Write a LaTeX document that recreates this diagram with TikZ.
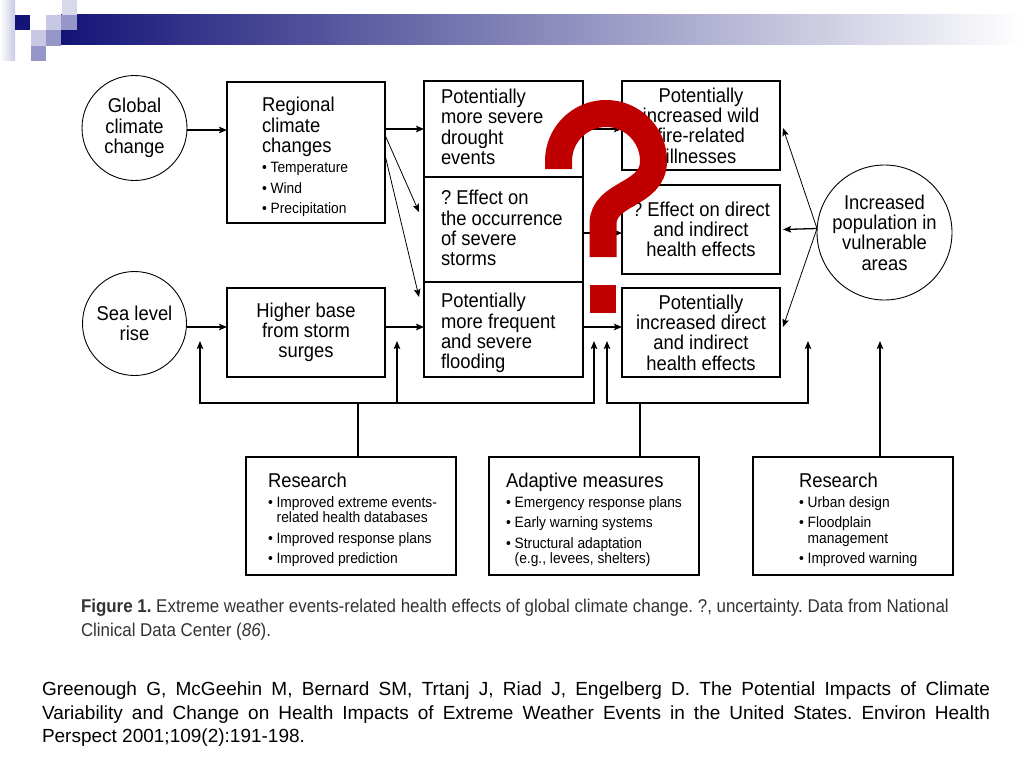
\documentclass[tikz,border=0pt]{standalone}
\usepackage{fontspec}
\setmainfont{Liberation Sans}
\newfontfamily\boxfont[FakeStretch=0.92]{Liberation Sans}
\newfontfamily\capfont[FakeStretch=0.915]{Liberation Sans}
\usepackage{tikz}
\usetikzlibrary{arrows.meta,positioning}
\frenchspacing
\definecolor{qred}{RGB}{192,0,0}
\definecolor{navy}{RGB}{20,20,120}
\definecolor{lav}{RGB}{200,200,228}
\definecolor{lavmid}{RGB}{150,150,200}
\definecolor{barmid}{RGB}{150,150,172}
\newcommand{\bulsize}{\fontsize{15}{15.5}\selectfont}
\tikzset{%
    >={Stealth[length=8pt,width=6.5pt,inset=1.5pt]}, % filled arrow tips
    inner sep=0pt,%
    outer sep=0pt,%
    box/.style={draw,line width=1.3pt,rectangle,align=center,
      font=\boxfont\fontsize{20}{20.3}\selectfont},%
    bubble/.style={draw,line width=0.9pt,circle,align=center,
      font=\boxfont\fontsize{20}{20.3}\selectfont},%
    txt/.style={anchor=north west,align=left,
      font=\boxfont\fontsize{20}{20.3}\selectfont},%
    flow/.style={->,line width=1.3pt},%
    thinflow/.style={->,line width=0.8pt},%
    bus/.style={line width=1.3pt,line cap=rect}%
    }

\begin{document}
\begin{tikzpicture}[x=1pt,y=-1pt]
    \useasboundingbox (0,0) rectangle (1024,768);
    % header bar and squares
    \shade[left color=navy,middle color=barmid,right color=white] (61,15) rectangle (1024,45);
    \shade[left color=white,right color=lav] (0,0) rectangle (15,60);
    \fill[navy] (15,15) rectangle (30,30);
    \fill[lav] (46,15) rectangle (61,30);
    \fill[lavmid] (61,15) rectangle (77,30);
    \fill[lav!70] (62,0) rectangle (77,15);
    \fill[lav] (31,30) rectangle (46,46);
    \fill[lavmid] (46,30) rectangle (61,46);
    \fill[lavmid] (31,46) rectangle (46,61);

    % left column
    \node[bubble,minimum size=105pt] (glob) at (134.5,128) {Global\\climate\\change};
    \node[bubble,minimum size=104pt] (sea) at (134.5,323.5) {Sea level\\rise};
    \node[box,minimum width=158pt,minimum height=141pt] (reg) at (306,152.5) {};
    \node[txt] (reg-t) at (262,97.5) {Regional\\climate\\changes\\{\bulsize • Temperature}\\{\bulsize • Wind}\\{\bulsize • Precipitation}};
    \node[box,minimum width=158pt,minimum height=89pt] (surge) at (306,332.5) {Higher base\\from storm\\surges};

    % stacked events
    \node[box,minimum width=159pt,minimum height=96pt] (drought) at (503.5,129) {};
    \node[box,minimum width=159pt,minimum height=105pt,below=0pt of drought] (storms) {};
    \node[box,minimum width=159pt,minimum height=95pt,below=0pt of storms] (flood) {};
    \node[txt] (drought-t) at (441,89) {Potentially\\more severe\\drought\\events};
    \node[txt] (storms-t) at (441,190.5) {? Effect on\\the occurrence\\of severe\\storms};
    \node[txt] (flood-t) at (441,293.5) {Potentially\\more frequent\\and severe\\flooding};

    % health effects
    \node[box,minimum width=158pt,minimum height=89pt] (fire) at (701,125.5) {Potentially\\increased wild\\fire-related\\illnesses};
    \node[box,minimum width=158pt,minimum height=89pt] (effect) at (701,229.5) {? Effect on direct\\and indirect\\health effects};
    \node[box,minimum width=158pt,minimum height=89pt] (direct) at (701,332.5) {Potentially\\increased direct\\and indirect\\health effects};
    \node[bubble,minimum size=135pt] (pop) at (884.5,232.5) {Increased\\population in\\vulnerable\\areas};

    % bottom row
    \node[box,minimum width=210pt,minimum height=118pt] (res1) at (351,516) {};
    \node[box,minimum width=210pt,minimum height=118pt] (adapt) at (594,516) {};
    \node[box,minimum width=200pt,minimum height=118pt] (res2) at (853,516) {};
    \node[txt,font=\boxfont\fontsize{20}{15.5}\selectfont] (res1-t) at (268,472.5) {Research\\[4.5pt]{\bulsize • Improved extreme events-}\\{\bulsize\hphantom{• }related health databases}\\[5pt]{\bulsize • Improved response plans}\\[5pt]{\bulsize • Improved prediction}};
    \node[txt,font=\boxfont\fontsize{20}{15.5}\selectfont] (adapt-t) at (506,472.5) {Adaptive measures\\[4.5pt]{\bulsize • Emergency response plans}\\[5pt]{\bulsize • Early warning systems}\\[5pt]{\bulsize • Structural adaptation}\\{\bulsize\hphantom{• }(e.g., levees, shelters)}};
    \node[txt,font=\boxfont\fontsize{20}{15.5}\selectfont] (res2-t) at (799,472.5) {Research\\[4.5pt]{\bulsize • Urban design}\\[5pt]{\bulsize • Floodplain}\\{\bulsize\hphantom{• }management}\\[5pt]{\bulsize • Improved warning}};

    % arrows
    \draw[flow] ([yshift=-2pt]glob.east) -- ([yshift=-2pt]glob.east -| reg.west);
    \draw[flow] ([yshift=-3.5pt]sea.east) -- ([yshift=-3.5pt]sea.east -| surge.west);
    \draw[flow] (reg.east |- drought.west) -- (drought.west);
    \draw[thinflow] ([yshift=17.5pt]reg.east) -- ([xshift=-5pt,yshift=17.5pt]storms.west);
    \draw[thinflow] ([yshift=-2.5pt]reg.east) -- ([xshift=-5pt,yshift=32.5pt]flood.west);
    \draw[flow] ([yshift=5.5pt]surge.east) -- ([yshift=5.5pt]surge.east -| flood.west);
    \draw[flow] (drought.east) -- (drought.east -| fire.west);
    \draw[flow] ([yshift=-3.5pt]storms.east) -- ([yshift=-3.5pt]storms.east -| effect.west);
    \draw[flow] ([yshift=2.5pt]flood.east) -- ([yshift=2.5pt]flood.east -| direct.west);
    \coordinate (hub) at ([yshift=4pt]pop.west);
    \draw[thinflow] (hub) -- ([xshift=3pt,yshift=-2.5pt]fire.east);
    \draw[flow] (hub) -- ([xshift=3pt]effect.east);
    \draw[thinflow] (hub) -- ([xshift=3pt,yshift=5.5pt]direct.east);

    % feedback from the bottom row
    \foreach \n/\x in {a/200,b/397,c/594,d/607,e/808,f/880}
        \coordinate (up\n) at (\x,341);
    \coordinate (j1) at (358,403);
    \coordinate (j2) at (640,403);
    \draw[bus] ([xshift=7pt]res1.north) -- (j1);
    \draw[bus] (upa |- j1) -- (upc |- j1);
    \foreach \n in {a,b,c}
        \draw[flow] (up\n |- j1) -- (up\n);
    \draw[bus] ([xshift=46pt]adapt.north) -- (j2);
    \draw[bus] (upd |- j2) -- (upe |- j2);
    \foreach \n in {d,e}
        \draw[flow] (up\n |- j2) -- (up\n);
    \draw[flow] ([xshift=27pt]res2.north) -- (upf);

    % caption and reference
    \node[anchor=north west,align=left,text=black!80,
      font=\capfont\fontsize{18.5}{24}\selectfont] (cap) at (81,599)
      {\textbf{Figure 1.} Extreme weather events-related health effects of global climate change. ?, uncertainty. Data from National\\Clinical Data Center (\textit{86}).};
    \node[anchor=north west,text width=948pt,align=justify,
      font=\fontsize{19}{23.5}\selectfont] (cite) at (42,682)
      {Greenough G, McGeehin M, Bernard SM, Trtanj J, Riad J, Engelberg D. The Potential Impacts of Climate\linebreak Variability and Change on Health Impacts of Extreme Weather Events in the United States. Environ Health\linebreak Perspect 2001;109(2):191-198.};

    % big question mark on top
    \draw[qred,line width=27pt] (558.5,169) -- (558.5,161)
        arc[start angle=180,end angle=0,radius=47.5pt]
        .. controls (653.5,196) and (603,192) .. (603,224) -- (603,257);
    \fill[qred] (590,285) rectangle (616,313);
\end{tikzpicture}
\end{document}
